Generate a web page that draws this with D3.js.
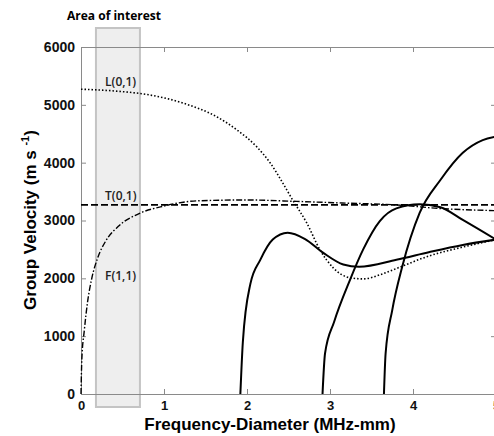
<!DOCTYPE html>
<html>
<head>
<meta charset="utf-8">
<script src="https://cdn.jsdelivr.net/npm/d3@7"></script>
<style>
  body { margin: 0; background: #fff; font-family: "Liberation Sans", Arial, sans-serif; }
  .tick text { font-family: "Liberation Sans", Arial, sans-serif; font-weight: bold; fill: #111; }
  .lbl { font-family: "Open Sans", sans-serif; font-size: 12px; font-weight: 600; fill: #222; }
</style>
</head>
<body>
<svg id="chart" width="494" height="436"></svg>
<script>
// frequency-diameter (MHz-mm) / group velocity (m/s)
let L01 = [[0,5270],[0.4,5240],[0.83,5170],[1.23,5030],[1.64,4790],[1.88,4565],[2.12,4270],[2.28,3995],[2.43,3650],[2.55,3355],[2.72,2957],[2.88,2490],[3.04,2180],[3.24,2010],[3.4,1990],[3.6,2060],[3.8,2170],[4.2,2390],[4.6,2540],[5.0,2670]];
let T01 = [[0,3270],[5.0,3270]];
let F11 = [[0,0],[0.01,600],[0.04,1100],[0.08,1600],[0.13,2000],[0.2,2350],[0.3,2650],[0.45,2900],[0.7,3120],[1.0,3250],[1.4,3340],[2.0,3355],[2.6,3330],[3.2,3300],[3.8,3270],[4.3,3210],[5.0,3170]];
let F12 = [[1.92,0],[1.95,900],[2.04,1900],[2.16,2320],[2.31,2670],[2.49,2790],[2.7,2680],[2.92,2440],[3.16,2240],[3.35,2200],[3.8,2320],[4.2,2455],[4.6,2577],[5.0,2670]];
let L02 = [[2.91,0],[2.94,700],[3.05,1250],[3.24,1970],[3.4,2500],[3.6,2990],[3.8,3210],[4.08,3280],[4.33,3230],[4.6,3010],[5.0,2670]];
let F13 = [[3.65,0],[3.67,700],[3.75,1450],[3.87,2200],[4.08,3130],[4.33,3700],[4.6,4170],[4.84,4390],[5.0,4450]];
let xTicks = [0,1,2,3,4,5];
let yTicks = [0,1000,2000,3000,4000,5000,6000];
let areaOfInterest = [0.18, 0.71];
let modeLabels = [{t:"L(0,1)", x:0.29, y:5330}, {t:"T(0,1)", x:0.29, y:3360}, {t:"F(1,1)", x:0.29, y:1970}];

let svg = d3.select("#chart");
let x = d3.scaleLinear().domain([0,5]).range([81,496]);
let y = d3.scaleLinear().domain([0,6000]).range([394,47]);

// area of interest box
svg.append("rect")
    .attr("x", x(areaOfInterest[0])).attr("y", 28)
    .attr("width", x(areaOfInterest[1]) - x(areaOfInterest[0])).attr("height", 379)
    .style("fill", "#eeeeee").style("stroke", "#c4c4c4").style("stroke-width", 2);
svg.append("text").attr("x", 114).attr("y", 20).attr("text-anchor", "middle")
    .style("font-family", "'Open Sans', sans-serif").style("font-size", "12px").style("font-weight", "bold")
    .text("Area of interest");

// axes
let gx = svg.append("g").attr("transform", "translate(0,394)")
    .call(d3.axisBottom(x).tickValues(xTicks).tickFormat(d3.format("d")).tickSize(-5).tickPadding(7));
let gxt = svg.append("g").attr("transform", "translate(0,47)")
    .call(d3.axisTop(x).tickValues(xTicks).tickFormat("").tickSize(-5));
let gy = svg.append("g").attr("transform", "translate(81,0)")
    .call(d3.axisLeft(y).tickValues(yTicks).tickFormat(d3.format("d")).tickSize(-5).tickPadding(6));
let gyr = svg.append("g").attr("transform", "translate(496,0)")
    .call(d3.axisRight(y).tickValues(yTicks).tickFormat("").tickSize(-5));
[gx, gxt, gy, gyr].forEach(function(g){
    g.selectAll("path,line").style("stroke", "#8a8a8a");
});
gx.selectAll("text").style("font-size", "13px");
gy.selectAll("text").style("font-size", "14px");

let line = d3.line().x(function(d){return x(d[0]);}).y(function(d){return y(d[1]);})
    .curve(d3.curveMonotoneX);

function draw(data, dash, w) {
    svg.append("path").datum(data).attr("d", line)
        .style("fill", "none").style("stroke", "#000").style("stroke-width", w)
        .style("stroke-dasharray", dash);
}
draw(L01, "1.5,2", 1.6);
draw(T01, "7,3", 1.8);
draw(F11, "6,2,1.5,2", 1.4);
draw(F12, null, 2);
draw(L02, null, 2);
draw(F13, null, 2);

svg.selectAll(".lbl").data(modeLabels).enter().append("text")
    .attr("class", "lbl").attr("x", function(d){return x(d.x);}).attr("y", function(d){return y(d.y);})
    .text(function(d){return d.t;});

// axis titles
svg.append("text").attr("x", 270).attr("y", 430).attr("text-anchor", "middle")
    .style("font-size", "17px").style("font-weight", "bold").text("Frequency-Diameter (MHz-mm)");
let yl = svg.append("text").attr("transform", "translate(36,220) rotate(-90)").attr("text-anchor", "middle")
    .style("font-size", "17px").style("font-weight", "bold");
yl.append("tspan").text("Group Velocity (m s ");
yl.append("tspan").attr("dy", -7).style("font-size", "11px").text("-1");
yl.append("tspan").attr("dy", 7).text(")");
</script>
</body>
</html>
